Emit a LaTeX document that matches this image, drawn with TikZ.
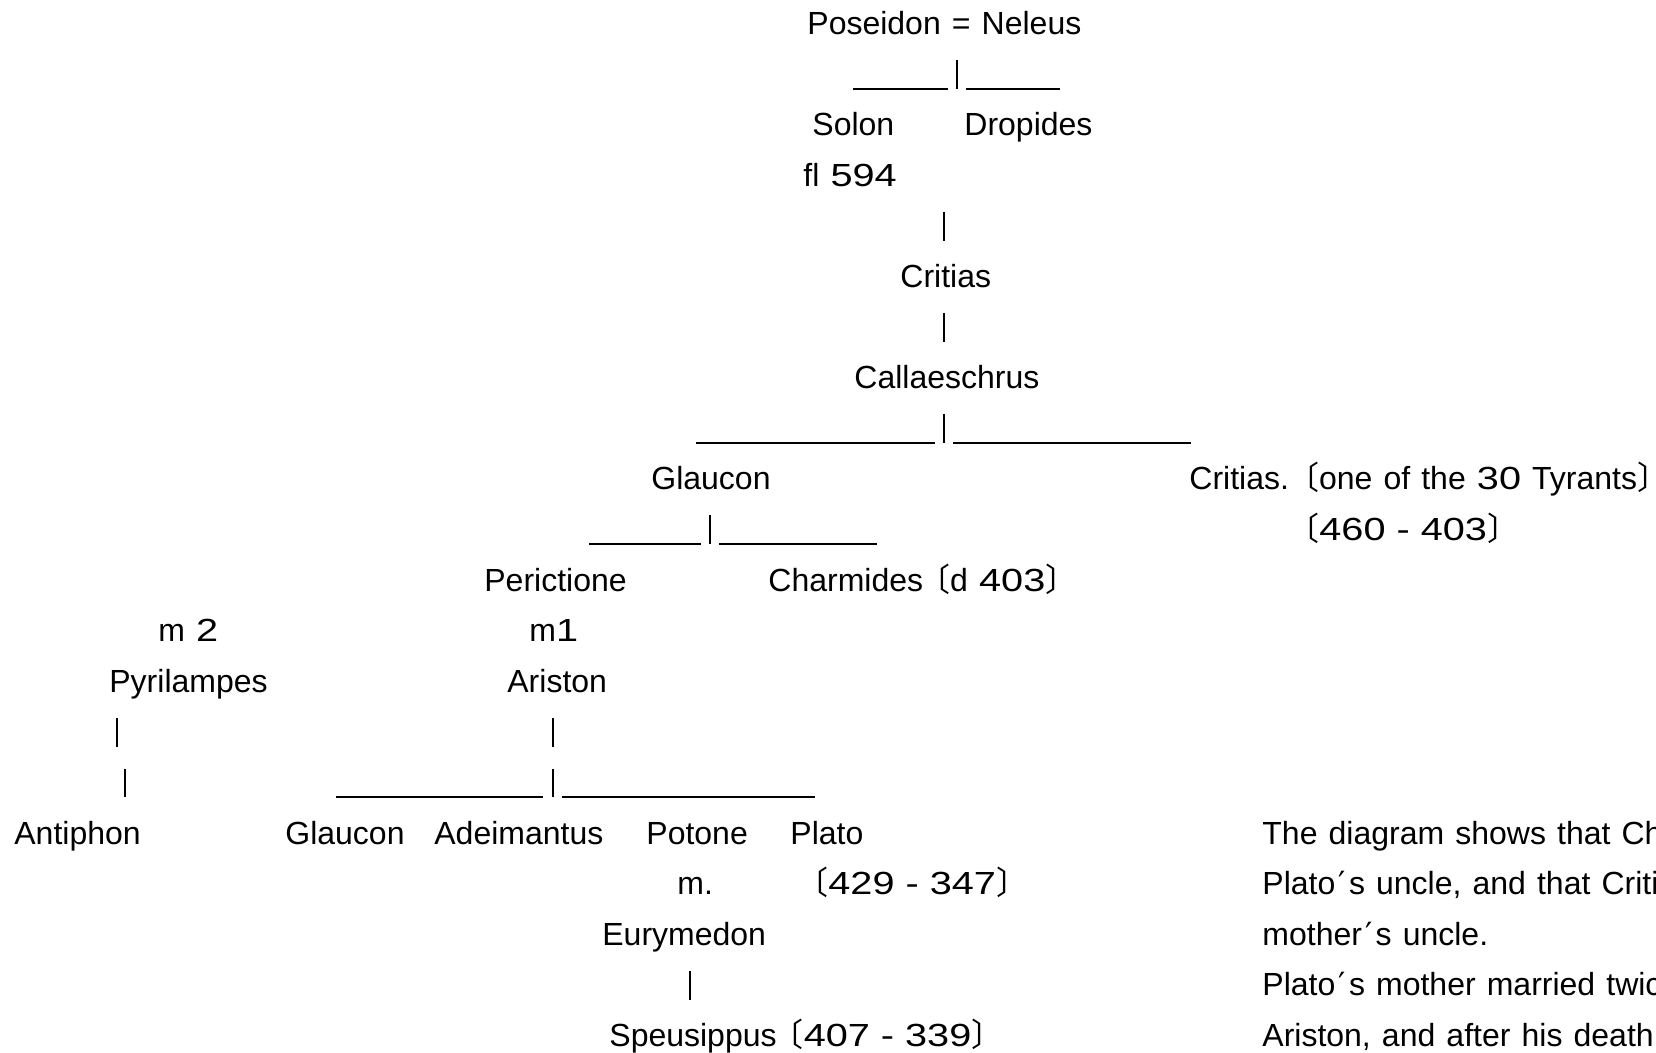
\documentclass[tikz,border=0pt]{standalone}
\usepackage{fontspec}
\setmainfont[WordSpace=1.25]{Liberation Sans}
\newfontfamily\cjkfont[RawFeature=+halt]{Noto Sans CJK JP}
\newfontfamily\numfontx[FakeStretch=1.24]{Liberation Sans}
\newfontfamily\dvsfont{DejaVu Sans}
\newcommand\lbr{{\cjkfont 〔}}
\newcommand\rbr{{\cjkfont 〕}}
\newcommand\nm[1]{{\numfontx #1}}
\newcommand\apos{{\dvsfont\kern0.1em′\kern0.1em}}
\tikzset{
  lbl/.style={anchor=base west, inner sep=0pt, font=\fontsize{16pt}{19pt}\selectfont},
  ln/.style={line width=1pt, line cap=butt}
}
\begin{document}
\begin{tikzpicture}[x=0.5pt,y=-0.5pt]
\useasboundingbox[fill=white] (0,0) rectangle (1656,1053);
\clip (0,0) rectangle (1656,1053);
% row 0
\node[lbl] (poseidon) at (807,34.5) {Poseidon = Neleus};
% row 1
\coordinate (a1) at (853,89); \coordinate (a2) at (948,89);
\coordinate (a3) at (957,60); \coordinate (a4) at (957,89);
\coordinate (a5) at (966,89); \coordinate (a6) at (1060,89);
\draw[ln] (a1) -- (a2) (a3) -- (a4) (a5) -- (a6);
% row 2-3
\node[lbl] (solon) at (812,135.7) {Solon};
\node[lbl] (dropides) at (964,135.7) {Dropides};
\node[lbl] (fl) at (803,186.3) {fl \nm{594}};
% row 4-7
\coordinate (b1) at (944,212); \coordinate (b2) at (944,241);
\draw[ln] (b1) -- (b2);
\node[lbl] (critias1) at (900,287.5) {Critias};
\coordinate (c1) at (944,313); \coordinate (c2) at (944,342);
\draw[ln] (c1) -- (c2);
\node[lbl] (callaeschrus) at (854,388.7) {Callaeschrus};
% row 8
\coordinate (d1) at (696,443); \coordinate (d2) at (935,443);
\coordinate (d3) at (944,414); \coordinate (d4) at (944,443);
\coordinate (d5) at (953,443); \coordinate (d6) at (1191,443);
\draw[ln] (d1) -- (d2) (d3) -- (d4) (d5) -- (d6);
% row 9
\node[lbl] (glaucon1) at (651,489.9) {Glaucon};
\node[lbl] (critias2) at (1189,489.9) {Critias. \lbr one of the \nm{30} Tyrants\rbr};
% row 10
\coordinate (e1) at (589,544); \coordinate (e2) at (701,544);
\coordinate (e3) at (710,515); \coordinate (e4) at (710,544);
\coordinate (e5) at (719,544); \coordinate (e6) at (877,544);
\draw[ln] (e1) -- (e2) (e3) -- (e4) (e5) -- (e6);
\node[lbl] (crdates) at (1303,540.5) {\lbr\nm{460 - 403}\rbr};
% row 11
\node[lbl] (perictione) at (484,591.1) {Perictione};
\node[lbl] (charmides) at (768,591.1) {Charmides \lbr d \nm{403}\rbr};
% row 12-13
\node[lbl] (m2) at (158,641.7) {m \nm{2}};
\node[lbl] (m1) at (529,641.7) {m\nm{1}};
\node[lbl] (pyrilampes) at (109,692.3) {Pyrilampes};
\node[lbl] (ariston) at (507,692.3) {Ariston};
% row 14
\coordinate (f1) at (117,718); \coordinate (f2) at (117,747);
\coordinate (f3) at (553,718); \coordinate (f4) at (553,747);
\draw[ln] (f1) -- (f2) (f3) -- (f4);
% row 15
\coordinate (g1) at (124.5,768.5); \coordinate (g2) at (124.5,797);
\coordinate (g3) at (336,797); \coordinate (g4) at (543,797);
\coordinate (g5) at (553,768.5); \coordinate (g6) at (553,797);
\coordinate (g7) at (562,797); \coordinate (g8) at (815,797);
\draw[ln] (g1) -- (g2) (g3) -- (g4) (g5) -- (g6) (g7) -- (g8);
% row 16
\node[lbl] (antiphon) at (14,844.1) {Antiphon};
\node[lbl] (glaucon2) at (285,844.1) {Glaucon};
\node[lbl] (adeimantus) at (434,844.1) {Adeimantus};
\node[lbl] (potone) at (646,844.1) {Potone};
\node[lbl] (plato) at (790,844.1) {Plato};
% row 17-20
\node[lbl] (mdot) at (677,894.7) {m.};
\node[lbl] (platodates) at (812,894.7) {\lbr\nm{429 - 347}\rbr};
\node[lbl] (eurymedon) at (602,945.3) {Eurymedon};
\coordinate (h1) at (690,971); \coordinate (h2) at (690,999.5);
\draw[ln] (h1) -- (h2);
\node[lbl] (speusippus) at (609,1046.5) {Speusippus \lbr\nm{407 - 339}\rbr};
% note
\node[lbl] (n1) at (1262,844.1) {The diagram shows that Ch};
\node[lbl] (n2) at (1262,894.7) {Plato\apos s uncle, and that Critia};
\node[lbl] (n3) at (1262,945.3) {mother\apos s uncle.};
\node[lbl] (n4) at (1262,995.9) {Plato\apos s mother married twic};
\node[lbl] (n5) at (1262,1046.5) {Ariston, and after his death};
\end{tikzpicture}
\end{document}
